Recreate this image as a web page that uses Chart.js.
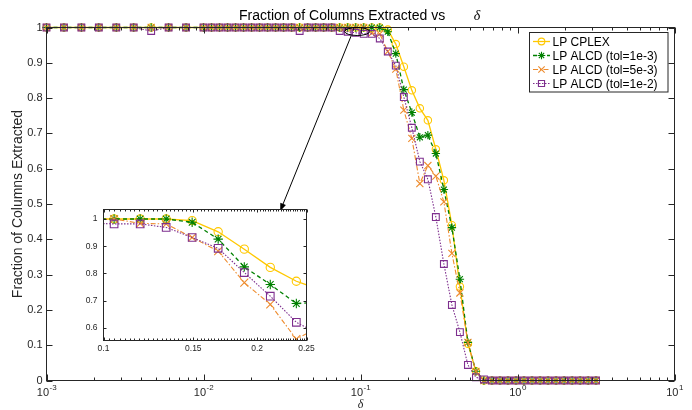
<!DOCTYPE html>
<html>
<head>
<meta charset="utf-8">
<title>Fraction of Columns Extracted vs delta</title>
<script src="https://cdn.jsdelivr.net/npm/chart.js@4.4.1/dist/chart.umd.min.js"></script>
<style>
  html, body { margin: 0; padding: 0; background: #fff; }
  #wrap { position: relative; width: 692px; height: 410px; }
  #wrap canvas { position: absolute; left: 0; top: 0; }
</style>
</head>
<body>
<div id="wrap">
  <canvas id="mainChart" width="692" height="410"></canvas>
  <canvas id="insetChart" width="692" height="410"></canvas>
</div>
<script>
// Values. One entry per delta.
const deltas = [
  0.001, 0.001292, 0.001668, 0.002154, 0.002783, 0.003594, 0.004642, 0.005995, 0.007743,
  0.01, 0.01125, 0.01265, 0.01423, 0.0160, 0.0180, 0.02024, 0.02276, 0.02560, 0.02880,
  0.03239, 0.03643, 0.04097, 0.04608, 0.05182, 0.05828, 0.06555, 0.07372, 0.08292, 0.09326,
  0.1049, 0.1180, 0.1327, 0.1492, 0.1678, 0.1888, 0.2123, 0.2388, 0.2686, 0.3020,
  0.3397, 0.3821, 0.4297, 0.4833, 0.5436, 0.6113, 0.6876, 0.7733, 0.8697, 0.9782,
  1.100, 1.237, 1.392, 1.565, 1.760, 1.980, 2.227, 2.504, 2.817, 3.162,
];

const lpCplex = [
  1, 1, 1, 1, 1, 1, 1, 1, 1,
  1, 1, 1, 1, 1, 1, 1, 1, 1, 1,
  1, 1, 1, 1, 1, 1, 1, 1, 1, 1,
  1, 1, 1, 0.994, 0.953, 0.889, 0.822, 0.771, 0.737, 0.655,
  0.567, 0.440, 0.266, 0.104, 0.026, 0, 0, 0, 0, 0,
  0, 0, 0, 0, 0, 0, 0, 0, 0, 0,
];

const alcdTol1e3 = [
  1, 1, 1, 1, 1, 1, 1, 1, 1,
  1, 1, 1, 1, 1, 1, 1, 1, 1, 1,
  1, 1, 1, 1, 1, 1, 1, 1, 1, 1,
  1, 1, 1, 0.988, 0.926, 0.824, 0.759, 0.689, 0.695, 0.643,
  0.541, 0.433, 0.287, 0.108, 0.026, 0, 0, 0, 0, 0,
  0, 0, 0, 0, 0, 0, 0, 0, 0, 0,
];

const alcdTol5e3 = [
  1, 1, 1, 1, 1, 1, 1, 1, 1,
  1, 1, 1, 1, 1, 1, 1, 1, 1, 1,
  1, 1, 1, 1, 1, 1, 1, 1, 1, 1,
  1, 0.984, 0.982, 0.932, 0.882, 0.766, 0.686, 0.558, 0.609, 0.579,
  0.506, 0.360, 0.248, 0.108, 0.026, 0, 0, 0, 0, 0,
  0, 0, 0, 0, 0, 0, 0, 0, 0, 0,
];

const alcdTol1e2 = [
  1, 1, 1, 1, 1, 1, 0.99, 1, 1,
  1, 1, 1, 1, 1, 1, 1, 1, 1, 1,
  1, 1, 0.99, 1, 1, 1, 1, 0.99, 0.988, 0.985,
  0.982, 0.982, 0.969, 0.932, 0.892, 0.803, 0.716, 0.620, 0.570, 0.463,
  0.330, 0.214, 0.137, 0.044, 0.009, 0.003, 0, 0, 0, 0,
  0, 0, 0, 0, 0, 0, 0, 0, 0, 0,
];

const seriesLabels = ["LP CPLEX", "LP ALCD (tol=1e-3)", "LP ALCD (tol=5e-3)", "LP ALCD (tol=1e-2)"];

const yTicks = [0, 0.1, 0.2, 0.3, 0.4, 0.5, 0.6, 0.7, 0.8, 0.9, 1];
const xDecades = [0.001, 0.01, 0.1, 1, 10];
const xExponents = ["-3", "-2", "-1", "0", "1"];
const insetXTicks = [0.1, 0.15, 0.2, 0.25];
const insetYTicks = [0.6, 0.7, 0.8, 0.9, 1];

const allSeries = [lpCplex, alcdTol1e3, alcdTol5e3, alcdTol1e2];

// ---- styling ----
const AXIS = "#262626";
const SANS = "'Liberation Sans', Arial, Helvetica, sans-serif";
const SERIF = "'Liberation Serif', 'DejaVu Serif', serif";

const STYLES = [
  { color: "#FFC800", dash: [], marker: "circle", r: 3.7, width: 1.3 },
  { color: "#008000", dash: [4, 3], marker: "star", r: 4.2, width: 1.3 },
  { color: "#EE8C2E", dash: [5, 2, 1.5, 2], marker: "crossRot", r: 5, width: 1.1 },
  { color: "#7E2F8E", dash: [1.5, 1.5], marker: "rect", r: 4.8, width: 1.1 },
];

// zoom ellipse + arrow, in data units of the main axes
const zoomMark = { x: 0.0953, y: 0.9887, rx: 12.5, ry: 4 };
const arrowFrom = { x: 0.0873, y: 0.977 };
const arrowTo = { x: 0.03076, y: 0.4794 };

function makeDatasets(markerScale, clip) {
  return allSeries.map((vals, i) => {
    const s = STYLES[i];
    return {
      label: seriesLabels[i],
      data: deltas.map((d, k) => ({ x: d, y: vals[k] })),
      borderColor: s.color,
      borderWidth: s.width,
      borderDash: s.dash,
      pointStyle: s.marker,
      pointRadius: s.r * markerScale,
      pointBorderColor: s.color,
      pointBorderWidth: 1.1,
      pointBackgroundColor: "rgba(0,0,0,0)",
      tension: 0,
      order: 4 - i,
      clip: clip,
    };
  });
}

const mainFrame = {
  id: "mainFrame",
  afterDraw(chart) {
    const { ctx, chartArea: a, scales: { x, y } } = chart;
    ctx.save();

    // axes box + inward ticks
    ctx.strokeStyle = AXIS;
    ctx.lineWidth = 1;
    ctx.strokeRect(a.left, a.top, a.right - a.left, a.bottom - a.top);
    ctx.beginPath();
    yTicks.forEach((v) => {
      const py = Math.round(y.getPixelForValue(v)) + 0.5;
      ctx.moveTo(a.left, py); ctx.lineTo(a.left + 6, py);
      ctx.moveTo(a.right, py); ctx.lineTo(a.right - 6, py);
    });
    const xTick = (v, len) => {
      const px = Math.round(x.getPixelForValue(v)) + 0.5;
      ctx.moveTo(px, a.bottom); ctx.lineTo(px, a.bottom - len);
      ctx.moveTo(px, a.top); ctx.lineTo(px, a.top + len);
    };
    xDecades.forEach((d, i) => {
      xTick(d, 6);
      if (i < xDecades.length - 1) {
        for (let m = 2; m <= 9; m++) xTick(d * m, 3);
      }
    });
    ctx.stroke();

    // x tick labels 10^n
    ctx.fillStyle = AXIS;
    ctx.textBaseline = "alphabetic";
    ctx.textAlign = "left";
    xDecades.forEach((d, i) => {
      const px = x.getPixelForValue(d);
      ctx.font = `11px ${SANS}`;
      const wBase = ctx.measureText("10").width;
      ctx.font = `8px ${SANS}`;
      const wExp = ctx.measureText(xExponents[i]).width;
      const left = px - (wBase + wExp) / 2;
      ctx.font = `11px ${SANS}`;
      ctx.fillText("10", left, 395.5);
      ctx.font = `8px ${SANS}`;
      ctx.fillText(xExponents[i], left + wBase + 0.5, 390);
    });

    // x axis label
    ctx.textAlign = "center";
    ctx.font = `italic 12px ${SERIF}`;
    ctx.fillText("\u03b4", (a.left + a.right) / 2, 408);

    // y axis label
    ctx.save();
    ctx.translate(22, (a.top + a.bottom) / 2);
    ctx.rotate(-Math.PI / 2);
    ctx.font = `14px ${SANS}`;
    ctx.fillText("Fraction of Columns Extracted", 0, 0);
    ctx.restore();

    // title
    ctx.fillStyle = "#000";
    ctx.textAlign = "left";
    ctx.font = `14px ${SANS}`;
    ctx.fillText("Fraction of Columns Extracted vs", 239, 20);
    ctx.textAlign = "center";
    ctx.font = `italic 14px ${SERIF}`;
    ctx.fillText("\u03b4", 477, 20);

    // zoom ellipse and arrow
    const ex = x.getPixelForValue(zoomMark.x);
    const ey = y.getPixelForValue(zoomMark.y);
    ctx.strokeStyle = "#000";
    ctx.lineWidth = 1;
    ctx.beginPath();
    ctx.ellipse(ex, ey, zoomMark.rx, zoomMark.ry, 0, 0, Math.PI * 2);
    ctx.stroke();
    const x0 = x.getPixelForValue(arrowFrom.x), y0 = y.getPixelForValue(arrowFrom.y);
    const x1 = x.getPixelForValue(arrowTo.x), y1 = y.getPixelForValue(arrowTo.y);
    const ang = Math.atan2(y1 - y0, x1 - x0);
    ctx.beginPath();
    ctx.moveTo(x0, y0);
    ctx.lineTo(x1 - 6 * Math.cos(ang), y1 - 6 * Math.sin(ang));
    ctx.stroke();
    ctx.fillStyle = "#000";
    ctx.beginPath();
    ctx.moveTo(x1, y1);
    ctx.lineTo(x1 - 8 * Math.cos(ang) + 3 * Math.sin(ang), y1 - 8 * Math.sin(ang) - 3 * Math.cos(ang));
    ctx.lineTo(x1 - 8 * Math.cos(ang) - 3 * Math.sin(ang), y1 - 8 * Math.sin(ang) + 3 * Math.cos(ang));
    ctx.closePath();
    ctx.fill();

    // legend
    const lx = 529.5, ly = 32.5, lw = 138.5, lh = 59.5;
    ctx.fillStyle = "#fff";
    ctx.fillRect(lx, ly, lw, lh);
    ctx.strokeStyle = AXIS;
    ctx.strokeRect(lx, ly, lw, lh);
    seriesLabels.forEach((label, i) => {
      const s = STYLES[i];
      const ry = 41.5 + i * 14;
      ctx.strokeStyle = s.color;
      ctx.lineWidth = s.width;
      ctx.setLineDash(s.dash);
      ctx.beginPath();
      ctx.moveTo(533, ry); ctx.lineTo(550, ry);
      ctx.stroke();
      ctx.setLineDash([]);
      ctx.lineWidth = 1.1;
      ctx.fillStyle = "rgba(0,0,0,0)";
      Chart.helpers.drawPoint(ctx, { pointStyle: s.marker, radius: s.r * 0.9, borderWidth: 1.1, rotation: 0 }, 541.5, ry);
      ctx.fillStyle = "#000";
      ctx.textAlign = "left";
      ctx.font = `12px ${SANS}`;
      ctx.fillText(label, 552.5, ry + 4.3);
    });

    ctx.restore();
  },
};

const insetFrame = {
  id: "insetFrame",
  beforeDatasetsDraw(chart) {
    const { ctx, chartArea: a } = chart;
    ctx.save();
    ctx.fillStyle = "#fff";
    ctx.fillRect(a.left, a.top, a.right - a.left, a.bottom - a.top);
    ctx.restore();
  },
  afterDraw(chart) {
    const { ctx, chartArea: a, scales: { x, y } } = chart;
    ctx.save();
    ctx.strokeStyle = AXIS;
    ctx.lineWidth = 1;
    ctx.strokeRect(a.left, a.top, a.right - a.left, a.bottom - a.top);
    ctx.beginPath();
    insetYTicks.forEach((v) => {
      const py = Math.round(y.getPixelForValue(v)) + 0.5;
      ctx.moveTo(a.left, py); ctx.lineTo(a.left + 3, py);
      ctx.moveTo(a.right, py); ctx.lineTo(a.right - 3, py);
    });
    const xTick = (v, len) => {
      const px = Math.round(x.getPixelForValue(v)) + 0.5;
      ctx.moveTo(px, a.bottom); ctx.lineTo(px, a.bottom - len);
      ctx.moveTo(px, a.top); ctx.lineTo(px, a.top + len);
    };
    for (let k = 1; k < 60; k++) xTick(0.1 + k * 0.0025, 2);
    insetXTicks.forEach((v) => xTick(v, 3));
    ctx.stroke();
    ctx.restore();
  },
};

new Chart(document.getElementById("mainChart").getContext("2d"), {
  type: "line",
  data: { datasets: makeDatasets(1, false) },
  options: {
    responsive: false,
    animation: false,
    events: [],
    layout: { padding: { left: 16.5, top: 27.5, right: 17.5, bottom: 9.5 } },
    plugins: { legend: { display: false }, tooltip: { enabled: false } },
    scales: {
      x: {
        type: "logarithmic",
        min: 0.001,
        max: 10,
        grid: { display: false, drawTicks: false },
        border: { display: false },
        ticks: { display: false },
        afterFit: (s) => { s.height = 20; },
      },
      y: {
        min: 0,
        max: 1,
        grid: { display: false, drawTicks: false },
        border: { display: false },
        afterBuildTicks: (s) => { s.ticks = yTicks.map((v) => ({ value: v })); },
        ticks: {
          padding: 4,
          color: AXIS,
          font: { family: SANS, size: 11 },
          callback: (v) => String(Math.round(v * 10) / 10),
        },
        afterFit: (s) => { s.width = 30; },
      },
    },
  },
  plugins: [mainFrame],
});

new Chart(document.getElementById("insetChart").getContext("2d"), {
  type: "line",
  data: { datasets: makeDatasets(1.12, undefined) },
  options: {
    responsive: false,
    animation: false,
    events: [],
    layout: { padding: { left: 78.5, top: 209.5, right: 385.5, bottom: 57.5 } },
    plugins: { legend: { display: false }, tooltip: { enabled: false } },
    scales: {
      x: {
        type: "logarithmic",
        min: 0.1,
        max: 0.25,
        grid: { display: false, drawTicks: false },
        border: { display: false },
        afterBuildTicks: (s) => { s.ticks = insetXTicks.map((v) => ({ value: v })); },
        ticks: {
          padding: 3,
          autoSkip: false,
          maxRotation: 0,
          color: AXIS,
          font: { family: SANS, size: 8.5 },
          callback: (v) => String(v),
        },
        afterFit: (s) => { s.height = 12; },
      },
      y: {
        min: 0.553,
        max: 1.035,
        grid: { display: false, drawTicks: false },
        border: { display: false },
        afterBuildTicks: (s) => { s.ticks = insetYTicks.map((v) => ({ value: v })); },
        ticks: {
          padding: 6,
          color: AXIS,
          font: { family: SANS, size: 8.5 },
          callback: (v) => String(Math.round(v * 10) / 10),
        },
        afterFit: (s) => { s.width = 25; },
      },
    },
  },
  plugins: [insetFrame],
});
</script>
</body>
</html>
